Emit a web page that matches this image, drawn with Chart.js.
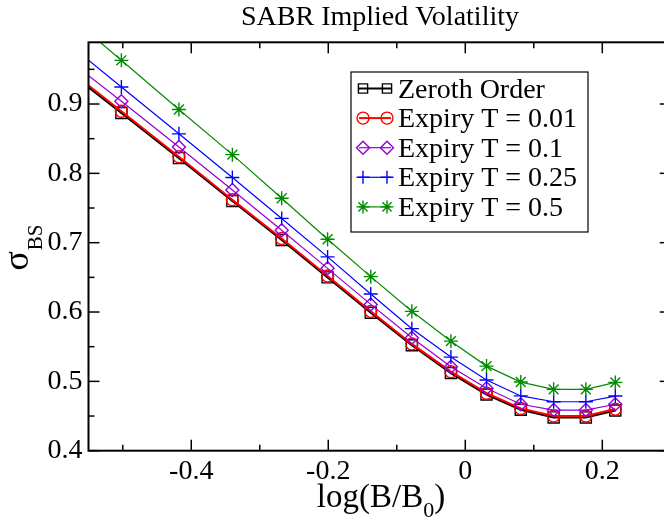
<!DOCTYPE html>
<html><head><meta charset="utf-8">
<script src="https://cdn.jsdelivr.net/npm/chart.js@4.4.1/dist/chart.umd.min.js"></script>
<style>
html,body{margin:0;padding:0;overflow:hidden;background:#fff;width:664px;height:523px}
#wrap{width:680px;height:523px}
</style></head>
<body><div id="wrap"><canvas id="c" width="680" height="523"></canvas></div>
<script>
// ---- data ----
const logMoneyness = [-0.594, -0.502, -0.418, -0.340, -0.268, -0.201, -0.138, -0.078, -0.021, 0.031, 0.081, 0.129, 0.176, 0.219];
const zerothOrder  = [0.958, 0.887, 0.822, 0.760, 0.704, 0.650, 0.599, 0.552, 0.512, 0.481, 0.459, 0.448, 0.448, 0.458];
const expiry001    = [0.961, 0.8895, 0.824, 0.762, 0.706, 0.652, 0.601, 0.554, 0.514, 0.483, 0.461, 0.450, 0.450, 0.460];
const expiry01     = [0.975, 0.904, 0.838, 0.776, 0.718, 0.663, 0.611, 0.563, 0.521, 0.490, 0.467, 0.4586, 0.4586, 0.467];
const expiry025    = [0.999, 0.9245, 0.857, 0.794, 0.735, 0.6795, 0.626, 0.576, 0.535, 0.502, 0.479, 0.4706, 0.4706, 0.4788];
const expiry05     = [1.040, 0.963, 0.892, 0.827, 0.764, 0.705, 0.651, 0.601, 0.558, 0.522, 0.499, 0.4885, 0.4885, 0.4985];
const seriesNames  = ['Zeroth Order', 'Expiry T = 0.01', 'Expiry T = 0.1', 'Expiry T = 0.25', 'Expiry T = 0.5'];
const xTicks    = [-0.5, -0.4, -0.3, -0.2, -0.1, 0, 0.1, 0.2];
const xLabelled = [-0.4, -0.2, 0, 0.2];
const yTicks    = [0.4, 0.45, 0.5, 0.55, 0.6, 0.65, 0.7, 0.75, 0.8, 0.85, 0.9, 0.95];
const yLabelled = [0.4, 0.5, 0.6, 0.7, 0.8, 0.9];
const titleText = 'SABR Implied Volatility';

// ---- styles ----
const styles = [
  {color:'#000000', style:'rect',    radius:7.8, lw:2,   order:5},
  {color:'#ff0000', style:'circle',  radius:6,   lw:2,   order:4},
  {color:'#9400d3', style:'rectRot', radius:6.5, lw:1.2, order:3},
  {color:'#0000ff', style:'cross',   radius:7,   lw:1.2, order:2},
  {color:'#008c00', style:'star',    radius:7,   lw:1.2, order:1}
];
const seriesValues = [zerothOrder, expiry001, expiry01, expiry025, expiry05];
const SERIF = "'Liberation Serif', 'Times New Roman', serif";

const datasets = seriesValues.map((vals, i) => ({
  label: seriesNames[i],
  data: logMoneyness.map((x, j) => ({x, y: vals[j]})),
  borderColor: styles[i].color,
  borderWidth: styles[i].lw,
  pointStyle: styles[i].style,
  pointRadius: styles[i].radius,
  pointBorderWidth: 1.4,
  pointBorderColor: styles[i].color,
  pointBackgroundColor: 'rgba(0,0,0,0)',
  tension: 0,
  fill: false,
  order: styles[i].order
}));

const decorations = {
  id: 'decorations',
  afterDraw(chart) {
    const {ctx, chartArea: a, scales: {x, y}} = chart;
    ctx.save();
    ctx.strokeStyle = '#000';
    ctx.lineWidth = 1.5;
    const seg = (x1, y1, x2, y2) => { ctx.beginPath(); ctx.moveTo(x1, y1); ctx.lineTo(x2, y2); ctx.stroke(); };
    xTicks.forEach(v => {
      const px = x.getPixelForValue(v);
      const L = xLabelled.includes(v) ? 11 : 6;
      seg(px, a.bottom, px, a.bottom - L);
      seg(px, a.top, px, a.top + L);
    });
    yTicks.forEach(v => {
      const py = y.getPixelForValue(v);
      const L = yLabelled.includes(v) ? 11 : 6;
      seg(a.left, py, a.left + L, py);
      seg(a.right, py, a.right - L, py);
    });
    ctx.lineWidth = 2;
    ctx.strokeRect(a.left, a.top, a.right - a.left, a.bottom - a.top);

    // title
    ctx.fillStyle = '#000';
    ctx.textAlign = 'center';
    ctx.textBaseline = 'alphabetic';
    ctx.font = '28px ' + SERIF;
    ctx.fillText(titleText, 380, 25);

    // x axis label with subscript
    ctx.textAlign = 'left';
    const p1 = 'log(B/B', p3 = ')';
    ctx.font = '33px ' + SERIF; const w1 = ctx.measureText(p1).width, w3 = ctx.measureText(p3).width;
    ctx.font = '22px ' + SERIF; const w2 = ctx.measureText('0').width;
    let sx = 381 - (w1 + w2 + w3) / 2;
    ctx.font = '33px ' + SERIF; ctx.fillText(p1, sx, 507);
    ctx.font = '22px ' + SERIF; ctx.fillText('0', sx + w1, 517);
    ctx.font = '33px ' + SERIF; ctx.fillText(p3, sx + w1 + w2, 507);

    // y axis label sigma_BS
    ctx.save();
    ctx.translate(28, 248);
    ctx.rotate(-Math.PI / 2);
    ctx.font = '36px ' + SERIF;
    const ws = ctx.measureText('σ').width;
    ctx.font = '21px ' + SERIF;
    const wb = ctx.measureText('BS').width;
    const st = -(ws + wb) / 2;
    ctx.font = '36px ' + SERIF; ctx.fillText('σ', st, 0);
    ctx.font = '21px ' + SERIF; ctx.fillText('BS', st + ws + 1, 14);
    ctx.restore();

    // legend
    const bx = 351, by = 72, bw = 237, bh = 160;
    ctx.fillStyle = '#fff';
    ctx.fillRect(bx, by, bw, bh);
    ctx.strokeStyle = '#000';
    ctx.lineWidth = 1.2;
    ctx.strokeRect(bx, by, bw, bh);
    chart.data.datasets.forEach((ds, i) => {
      const ry = 88.5 + i * 29.6;
      ctx.strokeStyle = ds.borderColor;
      ctx.lineWidth = ds.borderWidth;
      seg(359, ry, 391, ry);
      ctx.lineWidth = ds.pointBorderWidth;
      ctx.fillStyle = 'rgba(0,0,0,0)';
      [363, 387].forEach(cx => Chart.helpers.drawPoint(ctx, {pointStyle: ds.pointStyle, rotation: 0, radius: Math.min(ds.pointRadius, 6.5), borderWidth: ds.pointBorderWidth}, cx, ry));
      ctx.fillStyle = '#000';
      ctx.font = '28px ' + SERIF;
      ctx.textAlign = 'left';
      ctx.fillText(ds.label, 398, ry + 9);
    });
    ctx.restore();
  }
};

new Chart(document.getElementById('c'), {
  type: 'line',
  data: {datasets},
  plugins: [decorations],
  options: {
    responsive: false,
    animation: false,
    devicePixelRatio: 1,
    layout: {padding: {top: 42.3, right: 8.7, left: 0, bottom: 0}},
    plugins: {legend: {display: false}, title: {display: false}, tooltip: {enabled: false}},
    scales: {
      x: {
        type: 'linear', min: -0.55, max: 0.3,
        afterBuildTicks: s => { s.ticks = xTicks.map(v => ({value: v})); },
        afterFit: s => { s.height = 72.3; },
        grid: {display: false, drawTicks: false},
        border: {display: false},
        ticks: {
          autoSkip: false, maxRotation: 0, padding: 4, color: '#000',
          font: {family: SERIF, size: 28},
          callback: v => xLabelled.includes(v) ? String(v) : ''
        }
      },
      y: {
        type: 'linear', min: 0.4, max: 0.989,
        afterBuildTicks: s => { s.ticks = yTicks.map(v => ({value: v})); },
        afterFit: s => { s.width = 88.5; },
        grid: {display: false, drawTicks: false},
        border: {display: false},
        ticks: {
          autoSkip: false, padding: 6, color: '#000',
          font: {family: SERIF, size: 28},
          callback: v => yLabelled.includes(v) ? v.toFixed(1) : ''
        }
      }
    }
  }
});
</script>
</body></html>
